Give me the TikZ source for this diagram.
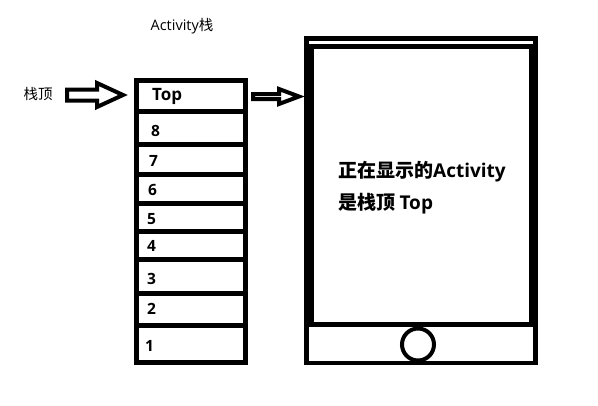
\documentclass[tikz,border=0pt]{standalone}
\usepackage{fontspec}
\setmainfont{Noto Sans CJK SC}
\newfontfamily\cjk{Noto Sans CJK SC}
\newfontfamily\lat{Open Sans}
\begin{document}
\begin{tikzpicture}[x=1pt,y=-1pt,
  lbl/.style={inner sep=0pt,font=\cjk\fontsize{14.5}{16}\selectfont},
  num/.style={inner sep=0pt,anchor=west,font=\lat\bfseries\fontsize{15.5}{17}\selectfont},
  scr/.style={inner sep=0pt,anchor=west,font=\cjk\bfseries\fontsize{19}{21}\selectfont},
  stk/.style={line width=5pt},
  blk/.style={line width=4pt,line join=miter}]
\useasboundingbox (0,0) rectangle (598,405);
% stack
\draw[stk] (136.5,80.2) rectangle (245.5,362.5);
\foreach \y in {111.5,144.5,174.5,203.5,231,259.5,293.5,325.5}
  \draw[stk] (134,\y) -- (248,\y);
\node[num,font=\lat\bfseries\fontsize{17}{19}\selectfont] (top) at (152,96) {Top};
\node[num] (n8) at (151,131) {8};
\node[num] (n7) at (149,161) {7};
\node[num] (n6) at (148,190) {6};
\node[num] (n5) at (147,219) {5};
\node[num] (n4) at (147,246) {4};
\node[num] (n3) at (147,279) {3};
\node[num] (n2) at (147,309) {2};
\node[num] (n1) at (145,346) {1};
% labels
\node[lbl] (title) at (182,26) {{\lat Activity}栈};
\node[lbl] (zd) at (38,94) {栈顶};
% left block arrow
\draw[blk] (67,89.5) -- (97,89.5) -- (97,83) -- (123,95) -- (97,107) -- (97,100.5) -- (67,100.5) -- cycle;
% right block arrow
\draw[blk] (253,94) -- (279,94) -- (279,89) -- (299,96.5) -- (279,104) -- (279,99) -- (253,99) -- cycle;
% phone
\fill[black] (304,36) rectangle (538,365);
\fill[white] (309,40.7) rectangle (533,44);
\fill[white] (314,49) rectangle (529,322);
\fill[white] (309,327) rectangle (533,361);
\draw[line width=4pt] (418,344.5) circle (16);
\node[scr] (s1) at (338,172) {正在显示的{\lat\bfseries Activity}};
\node[scr] (s2) at (338,204) {是栈顶 {\lat\bfseries Top}};
\end{tikzpicture}
\end{document}
